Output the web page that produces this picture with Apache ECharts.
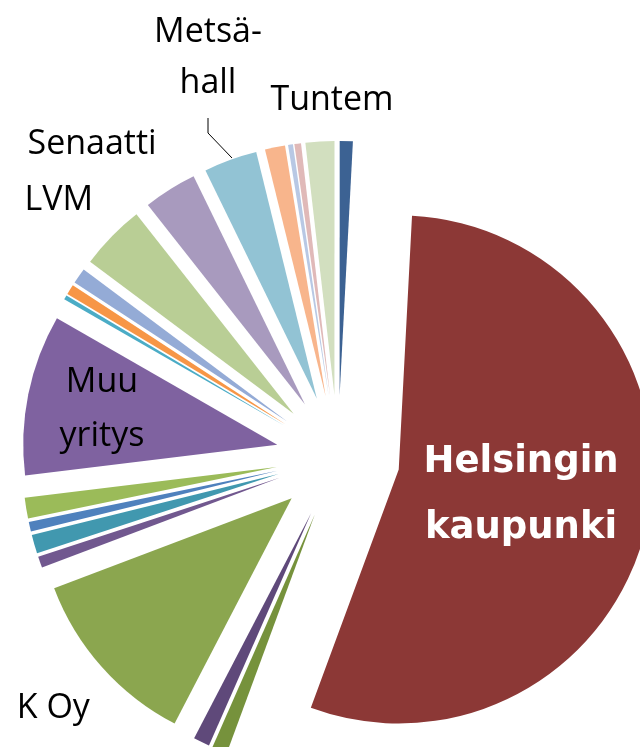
<!DOCTYPE html>
<html>
<head>
<meta charset="utf-8">
<script src="https://cdn.jsdelivr.net/npm/echarts@6/dist/echarts.min.js"></script>
<style>
html,body{margin:0;padding:0;background:#ffffff;}
#chart{width:640px;height:747px;}
</style>
</head>
<body>
<div id="chart"></div>
<script>
// ---- data (clockwise, starting just right of 12 o'clock) ----
const categories = [
  'Helsingin kaupunki', 'Muu 1', 'Muu 2', 'K Oy', 'Muu 3', 'Muu 4', 'Muu 5', 'Muu 6',
  'Muu yritys', 'Muu 7', 'Muu 8', 'Muu 9', 'LVM', 'Senaatti', 'Metsähallitus',
  'Muu 10', 'Muu 11', 'Muu 12', 'Muu 13', 'Tuntematon'
];
const values = [
  54.78, 0.97, 1.03, 11.61, 0.72, 1.19, 0.61, 1.31,
  10.22, 0.28, 0.64, 1.00, 4.17, 3.39, 3.39,
  1.28, 0.31, 0.42, 1.83, 0.83
];
const colors = [
  '#8C3836', '#76923C', '#5F497A', '#8BA64F', '#71588F', '#4198AF', '#4F81BD', '#9BBB59',
  '#7F62A0', '#4BACC6', '#F79646', '#94ABD6', '#B9CE95', '#A89ABE', '#92C3D4',
  '#F8B58C', '#B8C8E4', '#E0B9B8', '#D2DFBF', '#3C6293'
];
// text labels drawn around the pie
const labelTexts = ['Metsä-\nhall', 'Tuntem', 'Senaatti', 'LVM', 'Muu\nyritys', 'K Oy'];
const insideLabel = 'Helsingin\nkaupunki';

// ---- layout of the outside labels (positions only) ----
const labelLayout = [
  {x: 208, y: 57.8, align: 'center', lh: 51.6},
  {x: 332, y: 100.3, align: 'center', lh: 40},
  {x: 27.5, y: 144.6, align: 'left', lh: 40},
  {x: 24.5, y: 200.3, align: 'left', lh: 40},
  {x: 102, y: 409, align: 'center', lh: 54},
  {x: 53.3, y: 708.6, align: 'center', lh: 40}
];

const data = categories.map((name, i) => {
  const item = {
    name: name,
    value: values[i],
    selected: true,
    itemStyle: {color: colors[i], borderWidth: 0},
    select: {itemStyle: {color: colors[i], borderWidth: 0}}
  };
  if (i === 0) {
    item.label = {
      show: true,
      position: 'inside',
      formatter: insideLabel,
      color: '#ffffff',
      fontFamily: 'DejaVu Sans',
      fontWeight: 'bold',
      fontSize: 37,
      lineHeight: 66
    };
  }
  return item;
});

const graphics = labelTexts.map((t, i) => ({
  type: 'text',
  x: labelLayout[i].x,
  y: labelLayout[i].y,
  z: 100,
  silent: true,
  style: {
    text: t,
    fill: '#000000',
    fontFamily: 'Open Sans',
    fontSize: 34,
    lineHeight: labelLayout[i].lh,
    align: labelLayout[i].align,
    verticalAlign: 'middle'
  }
}));
graphics.push({
  type: 'polyline',
  z: 100,
  silent: true,
  shape: {points: [[208, 118], [208, 133], [232, 158]]},
  style: {stroke: '#000000', lineWidth: 1, fill: null}
});

const chart = echarts.init(document.getElementById('chart'));
chart.setOption({
  animation: false,
  backgroundColor: '#ffffff',
  series: [{
    type: 'pie',
    z: 2,
    center: [338, 457],
    radius: [0, 254],
    startAngle: 87,
    clockwise: true,
    selectedMode: 'multiple',
    selectedOffset: 62,
    avoidLabelOverlap: false,
    label: {show: false},
    labelLine: {show: false},
    labelLayout: function (p) {
      return p.dataIndex === 0 ? {dx: -5, dy: 0} : {};
    },
    emphasis: {disabled: true},
    data: data
  }],
  graphic: {elements: graphics}
});
</script>
</body>
</html>
